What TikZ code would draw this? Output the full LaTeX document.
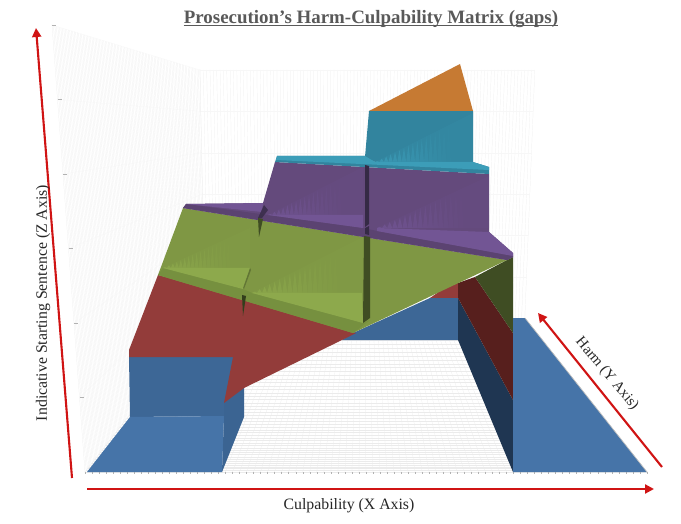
\documentclass[tikz,border=0pt]{standalone}
\usepackage{fontspec}
\setmainfont{Liberation Serif}
\usetikzlibrary{calc,arrows.meta}
\definecolor{bluef}{HTML}{4674A8}
\definecolor{bluew}{HTML}{3D6796}
\definecolor{blued}{HTML}{1F3652}
\definecolor{redw}{HTML}{933C3A}
\definecolor{redd}{HTML}{571F1D}
\definecolor{greenw}{HTML}{7F9744}
\definecolor{greenl}{HTML}{8DA94C}
\definecolor{greenb}{HTML}{76903F}
\definecolor{greend}{HTML}{3F4D23}
\definecolor{purw}{HTML}{644A7C}
\definecolor{purl}{HTML}{725594}
\definecolor{purb}{HTML}{5B4371}
\definecolor{purd}{HTML}{352A45}
\definecolor{tealw}{HTML}{32849E}
\definecolor{teall}{HTML}{3C9DB8}
\definecolor{orangew}{HTML}{C67A33}
\definecolor{axisred}{HTML}{D01414}
\definecolor{titlegray}{HTML}{595959}
\tikzset{
  gridline/.style={draw=black!8,line width=.2pt},
  wallline/.style={draw=black!7,line width=.2pt},
  faintline/.style={draw=black!3,line width=.2pt},
  tickmark/.style={draw=black!30,line width=.4pt},
  axisarrow/.style={draw=axisred,line width=2.1pt,-{Triangle[length=9pt,width=9pt]}},
  axislabel/.style={font=\fontsize{15.8}{18}\selectfont,text=black!85,inner sep=0pt}
}
% sawtooth lit triangle: x0,x1 base ends, ybase, ytop at x1, colour
\newcommand{\littri}[5]{%
  \fill[#5,opacity=.14] (#1,#3) -- (#2,#4) -- (#2,#3) -- cycle;
  \foreach \k in {0,...,21}{%
    \pgfmathsetmacro{\xa}{#1+(#2-#1)*\k/22}%
    \pgfmathsetmacro{\xb}{#1+(#2-#1)*(\k+1)/22}%
    \pgfmathsetmacro{\xm}{(\xa+\xb)/2}%
    \pgfmathsetmacro{\ym}{#3+(#4-#3)*(\xm-#1)/(#2-#1)}%
    \pgfmathsetmacro{\op}{max(0,.8-\k*.045)}%
    \fill[#5,opacity=\op] (\xa,#3) -- (\xm,\ym) -- (\xb,#3) -- cycle;
  }%
}
\begin{document}
\begin{tikzpicture}[x=1pt,y=-1pt]
\useasboundingbox (0,0) rectangle (681,524);
\fill[white] (0,0) rectangle (681,524);
% box corners
\coordinate (lt) at (52,25);
\coordinate (lb) at (85,472);
\coordinate (bt) at (200,70);
\coordinate (bb) at (205,318);
\coordinate (rt) at (535,70);
\coordinate (rb) at (525,318);
\coordinate (fr) at (647,472);
% left wall
\foreach \t in {0,0.01,...,1.001}{
  \draw[wallline] ($(lt)!\t!(bt)$) -- ($(lb)!\t!(bb)$);
}
\foreach \t in {0,0.1667,...,1.001}{
  \draw[faintline] ($(lt)!\t!(lb)$) -- ($(bt)!\t!(bb)$);
}
% back wall
\foreach \t in {0,0.01,...,1.001}{
  \draw[wallline] ($(bt)!\t!(rt)$) -- ($(bb)!\t!(rb)$);
}
\foreach \t in {0,0.1667,...,1.001}{
  \draw[faintline] ($(bt)!\t!(bb)$) -- ($(rt)!\t!(rb)$);
}
% floor
\foreach \t in {0,0.0125,...,1.001}{
  \draw[gridline] ($(lb)!\t!(fr)$) -- ($(bb)!\t!(rb)$);
}
\foreach \t in {0.0,0.02,...,1.001}{
  \pgfmathsetmacro{\u}{\t*\t*.45+\t*.55}
  \draw[gridline] ($(lb)!\u!(bb)$) -- ($(fr)!\u!(rb)$);
}
% ticks
\foreach \t in {0,0.0125,...,1.001}{
  \draw[tickmark] ($(lb)!\t!(fr)$) -- ++(0,2);
}
\foreach \t in {0,0.1667,...,0.99}{
  \draw[tickmark] ($(lt)!\t!(lb)$) -- ++(4,0);
}
% back blue
\fill[bluew] (342,340) -- (458,340) -- (458,298) -- (430,298) -- (353,333) -- cycle;
% back red
\fill[redw] (430,298) -- (458,298) -- (458,283) -- (470,270) -- cycle;
% right dark panels
\fill[blued] (458,340) -- (513,472) -- (513,400) -- (458,298) -- cycle;
\fill[redd] (458,298) -- (513,400) -- (513,333) -- (475,277) -- (458,283) -- cycle;
\fill[greend] (475,277) -- (513,333) -- (513,257) -- (507,260) -- cycle;
% right floor
\fill[bluef] (513,318) -- (525,318) -- (647,472) -- (513,472) -- cycle;
\draw[draw=black!25,line width=.7pt] (525,318) -- (647,472);
% left blue block
\fill[bluew] (129,357) -- (233,357) -- (244,388) -- (244,417) -- (222,472) -- (224,416) -- (130,417) -- cycle;
\fill[bluef] (87,472) -- (130,417) -- (224,416) -- (222,472) -- cycle;
\fill[blued,opacity=.06] (222,472) -- (224,416) -- (224,403) -- (244,388) -- (244,417) -- cycle;
% red wall
\fill[redw] (129,350) -- (129,357) -- (233,357) -- (224,403) -- (244,388) -- (342,340) -- (356,333) -- (243,296) -- (158,275) -- cycle;
% green
\fill[greenw] (183,208) -- (507,260) -- (353,333) -- (158,275) -- cycle;
\fill[greenb] (158,275) -- (163,268) -- (243,289) -- (252,293) -- (363,323) -- (370,320) -- (353,333) -- cycle;
\littri{163}{250}{268}{228}{greenl}
\fill[greenl] (163,268) -- (250,268) -- (243,289) -- cycle;
\littri{252}{363}{293}{237}{greenl}
\fill[greenl] (252,293) -- (362,293) -- (363,323) -- cycle;
% purple
\fill[purw] (275,162) -- (489,174) -- (489,232) -- (513,253) -- (513,257) -- (507,260) -- (183,208) -- (186,204) -- (263,203) -- cycle;
\fill[purb] (183,208) -- (186,204) -- (268,215) -- (363,228) -- (377,231) -- (513,256) -- (513,257) -- (507,260) -- cycle;
\fill[purl] (186,204) -- (263,203) -- (262,212) -- cycle;
\littri{268}{363}{215}{167}{purl}
\fill[purl] (268,215) -- (363,215) -- (363,228) -- cycle;
\littri{377}{489}{228}{176}{purl}
\fill[purl] (377,228) -- (489,232) -- (513,253) -- (513,256) -- (377,231) -- cycle;
% teal
\fill[tealw] (365,157) -- (369,111) -- (473,111) -- (473,162) -- (375,162) -- cycle;
\littri{375}{473}{162}{113}{teall}
\fill[tealw] (277,156) -- (365,156) -- (375,162) -- (473,162) -- (489,167) -- (489,174) -- (275,162) -- cycle;
\fill[teall] (277,156) -- (365,156) -- (375,162) -- (473,162) -- (489,167) -- (489,170) -- (276,160) -- cycle;
% orange
\fill[orangew] (369,111) -- (460,64) -- (473,111) -- cycle;
% seams
\fill[purd] (365,165) -- (369,166) -- (369,224) -- (365,227) -- cycle;
\fill[purd] (365,228) -- (369,226) -- (369,235) -- (365,234) -- cycle;
\fill[greend] (364,236) -- (370,237) -- (370,318) -- (363,323) -- cycle;
\fill[purd,opacity=.8] (264,205) -- (268,210) -- (262,218) -- (258,218) -- cycle;
\fill[greend] (258,218) -- (263,219) -- (259,237) -- cycle;
\fill[greend!80!black] (242,295) -- (246,296) -- (243,316) -- cycle;
\fill[greend,opacity=.45] (250,268) -- (251,270) -- (244,289) -- (243,288) -- cycle;
% axes
\coordinate (zs) at (72,478);
\coordinate (ze) at (36,28);
\coordinate (xs) at (87,489);
\coordinate (xe) at (654,489);
\coordinate (ys) at (662,467);
\coordinate (ye) at (538,313);
\draw[axisarrow] (zs) -- (ze);
\draw[axisarrow] (xs) -- (xe);
\draw[axisarrow] (ys) -- (ye);
% labels
\node[inner sep=0pt,font=\bfseries\fontsize{18.9}{21}\selectfont,text=titlegray] (title) at (371,19.5) {Prosecution's Harm-Culpability Matrix (gaps)};
\draw[titlegray,line width=1pt] ([yshift=-2pt]title.base west) -- ([yshift=-2pt]title.base east);
\node[axislabel] (xlab) at (349,506) {Culpability (X Axis)};
\node[axislabel,rotate=90] (zlab) at (43,303) {Indicative Starting Sentence (Z Axis)};
\node[axislabel,font=\fontsize{14.8}{17}\selectfont,rotate=-50] (ylab) at (607,374) {Harm (Y Axis)};
\end{tikzpicture}
\end{document}
